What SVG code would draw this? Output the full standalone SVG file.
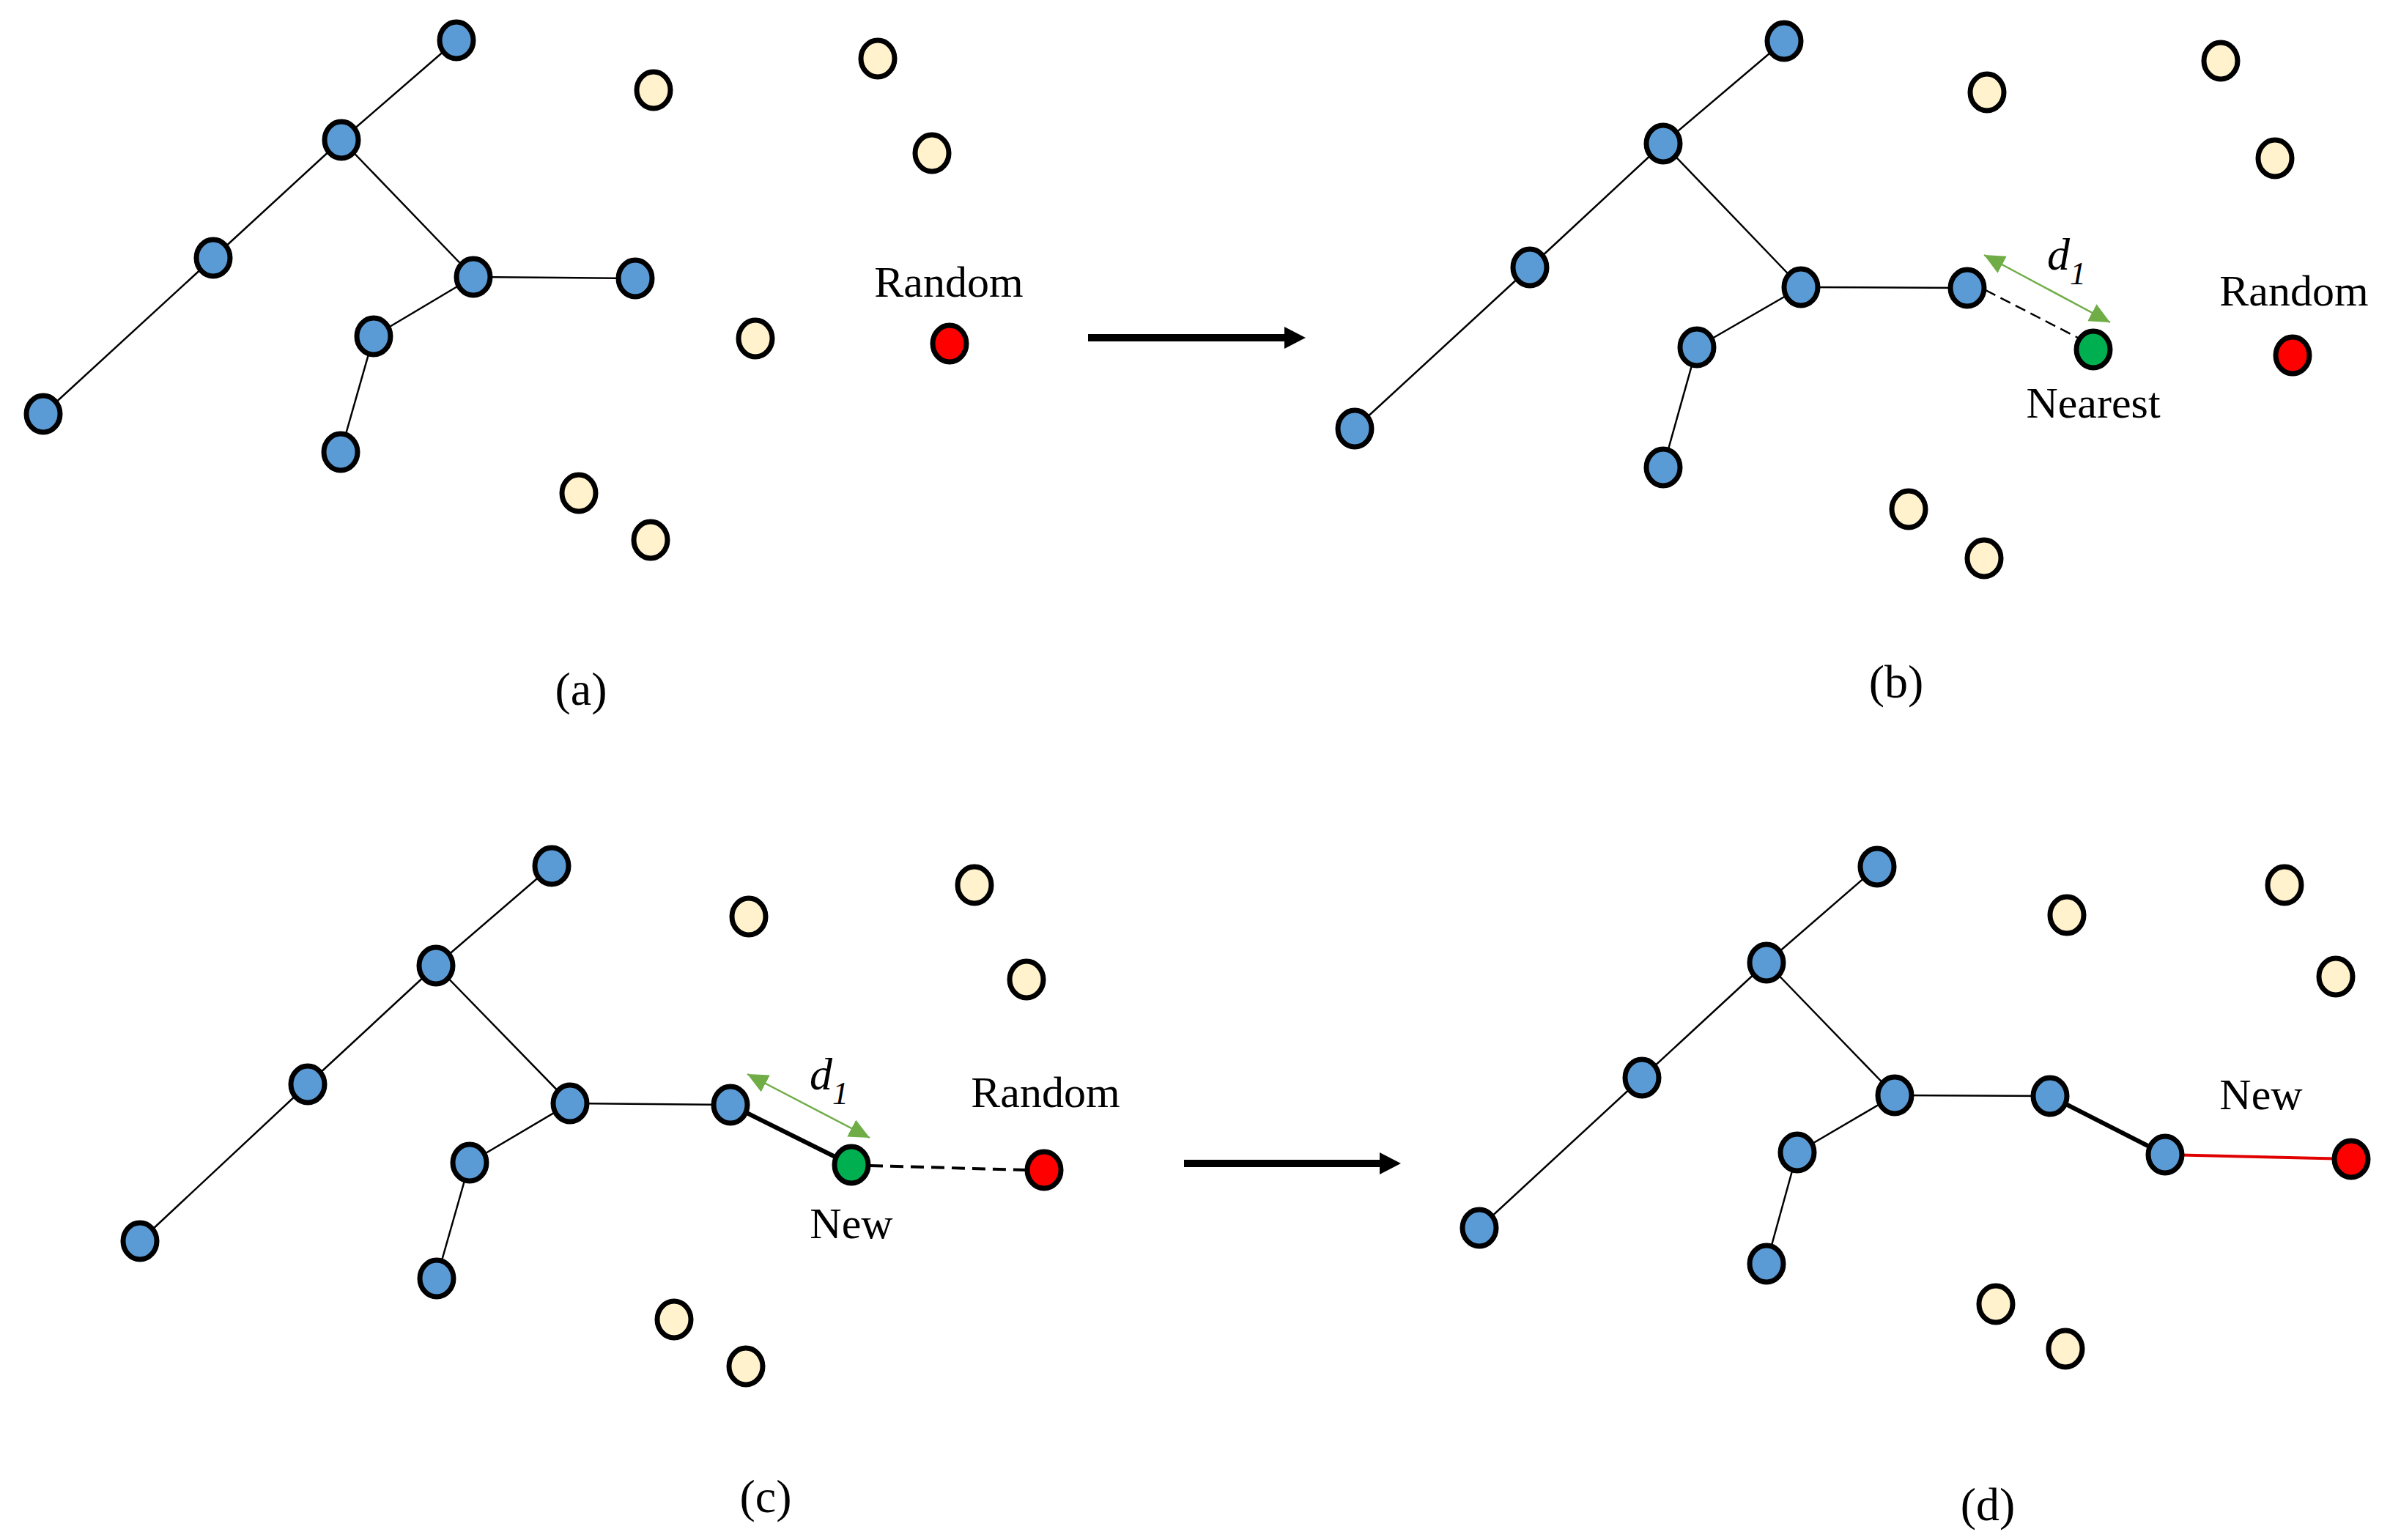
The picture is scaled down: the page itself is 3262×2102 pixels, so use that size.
<svg xmlns="http://www.w3.org/2000/svg" width="3262" height="2102" viewBox="0 0 3262 2102">
<style>
.n{stroke:#000;stroke-width:7}
.b{fill:#5B9BD5}
.c{fill:#FFF2CC}
.g{fill:#00B050}
.r{fill:#FF0000}
.e{stroke:#000;stroke-width:2.5;fill:none}
.k{stroke:#000;stroke-width:6;fill:none}
.dash{stroke:#000;fill:none}
.gd{stroke:#70AD47;stroke-width:2.5;fill:none;marker-start:url(#ga);marker-end:url(#ga)}
.big{stroke:#000;stroke-width:10;fill:none;marker-end:url(#ba)}
.t{font-family:"Liberation Serif","Times New Roman",serif;font-size:60px;fill:#000;text-anchor:middle}
.lab{font-family:"Liberation Serif","Times New Roman",serif;font-size:64px;fill:#000;text-anchor:middle}
.m{font-family:"Liberation Serif","Times New Roman",serif;font-style:italic;font-size:62px;fill:#000}
</style>
<defs>
<marker id="ga" markerUnits="userSpaceOnUse" markerWidth="30" markerHeight="28" refX="28" refY="13" orient="auto-start-reverse" viewBox="0 0 30 28"><path d="M0,0 L28,13 L0,26 z" fill="#70AD47"/></marker>
<marker id="ba" markerUnits="userSpaceOnUse" markerWidth="30" markerHeight="30" refX="0" refY="15" orient="auto" viewBox="0 0 30 30"><path d="M0,0 L29,15 L0,30 z" fill="#000"/></marker>
</defs>
<rect width="3262" height="2102" fill="#fff"/>
<g id="connectors">
<!-- (a) -->
<line class="e" x1="623" y1="55" x2="466" y2="191"/>
<line class="e" x1="466" y1="191" x2="291" y2="352"/>
<line class="e" x1="291" y1="352" x2="59" y2="565"/>
<line class="e" x1="466" y1="191" x2="646" y2="378"/>
<line class="e" x1="646" y1="378" x2="867" y2="380"/>
<line class="e" x1="646" y1="378" x2="510" y2="459"/>
<line class="e" x1="510" y1="459" x2="465" y2="617"/>
<!-- (b) -->
<line class="e" x1="2435" y1="56" x2="2270" y2="196"/>
<line class="e" x1="2270" y1="196" x2="2088" y2="365"/>
<line class="e" x1="2088" y1="365" x2="1849" y2="585"/>
<line class="e" x1="2270" y1="196" x2="2458" y2="392"/>
<line class="e" x1="2458" y1="392" x2="2685" y2="393"/>
<line class="e" x1="2458" y1="392" x2="2316" y2="474"/>
<line class="e" x1="2316" y1="474" x2="2270" y2="638"/>
<line class="dash" stroke-width="2.5" stroke-dasharray="15 8" x1="2710" y1="396" x2="2838" y2="462"/>
<line class="gd" x1="2708" y1="348" x2="2880" y2="440"/>
<!-- (c) -->
<line class="e" x1="753" y1="1182" x2="595" y2="1318"/>
<line class="e" x1="595" y1="1318" x2="420" y2="1480"/>
<line class="e" x1="420" y1="1480" x2="191" y2="1694"/>
<line class="e" x1="595" y1="1318" x2="778" y2="1506"/>
<line class="e" x1="778" y1="1506" x2="997" y2="1508"/>
<line class="e" x1="778" y1="1506" x2="641" y2="1587"/>
<line class="e" x1="641" y1="1587" x2="596" y2="1745"/>
<line class="k" x1="997" y1="1508" x2="1162" y2="1590"/>
<line class="dash" stroke-width="4" stroke-dasharray="18 10" x1="1187" y1="1591" x2="1402" y2="1597"/>
<line class="gd" x1="1020" y1="1466" x2="1187" y2="1553"/>
<!-- (d) -->
<line class="e" x1="2562" y1="1183" x2="2411" y2="1314"/>
<line class="e" x1="2411" y1="1314" x2="2241" y2="1471"/>
<line class="e" x1="2241" y1="1471" x2="2019" y2="1676"/>
<line class="e" x1="2411" y1="1314" x2="2586" y2="1495"/>
<line class="e" x1="2586" y1="1495" x2="2798" y2="1496"/>
<line class="e" x1="2586" y1="1495" x2="2453" y2="1573"/>
<line class="e" x1="2453" y1="1573" x2="2411" y2="1725"/>
<line class="k" x1="2798" y1="1496" x2="2955" y2="1576"/>
<line stroke="#E00000" stroke-width="4" x1="2955" y1="1576" x2="3209" y2="1582"/>
<!-- step arrows -->
<line class="big" x1="1485" y1="461" x2="1753" y2="461"/>
<line class="big" x1="1616" y1="1588" x2="1883" y2="1588"/>
</g>
<g id="panel-a">
<ellipse id="a-t1" class="n b" cx="623" cy="55" rx="23" ry="25"/>
<ellipse id="a-t2" class="n b" cx="466" cy="191" rx="23" ry="25"/>
<ellipse id="a-t3" class="n b" cx="291" cy="352" rx="23" ry="25"/>
<ellipse id="a-t4" class="n b" cx="59" cy="565" rx="23" ry="25"/>
<ellipse id="a-t5" class="n b" cx="646" cy="378" rx="23" ry="25"/>
<ellipse id="a-t6" class="n b" cx="867" cy="380" rx="23" ry="25"/>
<ellipse id="a-t7" class="n b" cx="510" cy="459" rx="23" ry="25"/>
<ellipse id="a-t8" class="n b" cx="465" cy="617" rx="23" ry="25"/>
<ellipse id="a-s1" class="n c" cx="892" cy="123" rx="23" ry="25"/>
<ellipse id="a-s2" class="n c" cx="1198" cy="80" rx="23" ry="25"/>
<ellipse id="a-s3" class="n c" cx="1272" cy="209" rx="23" ry="25"/>
<ellipse id="a-s4" class="n c" cx="1031" cy="462" rx="23" ry="25"/>
<ellipse id="a-s5" class="n c" cx="790" cy="673" rx="23" ry="25"/>
<ellipse id="a-s6" class="n c" cx="888" cy="737" rx="23" ry="25"/>
<g id="a-random"><ellipse class="n r" cx="1296" cy="469" rx="23" ry="25"/><text class="t" x="1295" y="405">Random</text></g>
<text class="lab" x="793" y="962">(a)</text>
</g>
<g id="panel-b">
<ellipse id="b-t1" class="n b" cx="2435" cy="56" rx="23" ry="25"/>
<ellipse id="b-t2" class="n b" cx="2270" cy="196" rx="23" ry="25"/>
<ellipse id="b-t3" class="n b" cx="2088" cy="365" rx="23" ry="25"/>
<ellipse id="b-t4" class="n b" cx="1849" cy="585" rx="23" ry="25"/>
<ellipse id="b-t5" class="n b" cx="2458" cy="392" rx="23" ry="25"/>
<ellipse id="b-t6" class="n b" cx="2685" cy="393" rx="23" ry="25"/>
<ellipse id="b-t7" class="n b" cx="2316" cy="474" rx="23" ry="25"/>
<ellipse id="b-t8" class="n b" cx="2270" cy="638" rx="23" ry="25"/>
<ellipse id="b-s1" class="n c" cx="2712" cy="126" rx="23" ry="25"/>
<ellipse id="b-s2" class="n c" cx="3031" cy="83" rx="23" ry="25"/>
<ellipse id="b-s3" class="n c" cx="3105" cy="216" rx="23" ry="25"/>
<ellipse id="b-s5" class="n c" cx="2605" cy="695" rx="23" ry="25"/>
<ellipse id="b-s6" class="n c" cx="2708" cy="762" rx="23" ry="25"/>
<g id="b-nearest"><ellipse class="n g" cx="2857" cy="477" rx="23" ry="25"/><text class="t" x="2857" y="570">Nearest</text></g>
<g id="b-random"><ellipse class="n r" cx="3129" cy="485" rx="23" ry="25"/><text class="t" x="3131" y="417">Random</text></g>
<text class="m" x="2794" y="368">d<tspan font-size="44" dy="20">1</tspan></text>
<text class="lab" x="2588" y="952">(b)</text>
</g>
<g id="panel-c">
<ellipse id="c-t1" class="n b" cx="753" cy="1182" rx="23" ry="25"/>
<ellipse id="c-t2" class="n b" cx="595" cy="1318" rx="23" ry="25"/>
<ellipse id="c-t3" class="n b" cx="420" cy="1480" rx="23" ry="25"/>
<ellipse id="c-t4" class="n b" cx="191" cy="1694" rx="23" ry="25"/>
<ellipse id="c-t5" class="n b" cx="778" cy="1506" rx="23" ry="25"/>
<ellipse id="c-t6" class="n b" cx="997" cy="1508" rx="23" ry="25"/>
<ellipse id="c-t7" class="n b" cx="641" cy="1587" rx="23" ry="25"/>
<ellipse id="c-t8" class="n b" cx="596" cy="1745" rx="23" ry="25"/>
<ellipse id="c-s1" class="n c" cx="1022" cy="1251" rx="23" ry="25"/>
<ellipse id="c-s2" class="n c" cx="1330" cy="1208" rx="23" ry="25"/>
<ellipse id="c-s3" class="n c" cx="1401" cy="1337" rx="23" ry="25"/>
<ellipse id="c-s5" class="n c" cx="920" cy="1801" rx="23" ry="25"/>
<ellipse id="c-s6" class="n c" cx="1018" cy="1865" rx="23" ry="25"/>
<g id="c-new"><ellipse class="n g" cx="1162" cy="1590" rx="23" ry="25"/><text class="t" x="1162" y="1690">New</text></g>
<g id="c-random"><ellipse class="n r" cx="1425" cy="1597" rx="23" ry="25"/><text class="t" x="1427" y="1511">Random</text></g>
<text class="m" x="1105" y="1487">d<tspan font-size="44" dy="20">1</tspan></text>
<text class="lab" x="1045" y="2064">(c)</text>
</g>
<g id="panel-d">
<ellipse id="d-t1" class="n b" cx="2562" cy="1183" rx="23" ry="25"/>
<ellipse id="d-t2" class="n b" cx="2411" cy="1314" rx="23" ry="25"/>
<ellipse id="d-t3" class="n b" cx="2241" cy="1471" rx="23" ry="25"/>
<ellipse id="d-t4" class="n b" cx="2019" cy="1676" rx="23" ry="25"/>
<ellipse id="d-t5" class="n b" cx="2586" cy="1495" rx="23" ry="25"/>
<ellipse id="d-t6" class="n b" cx="2798" cy="1496" rx="23" ry="25"/>
<ellipse id="d-t7" class="n b" cx="2453" cy="1573" rx="23" ry="25"/>
<ellipse id="d-t8" class="n b" cx="2411" cy="1725" rx="23" ry="25"/>
<ellipse id="d-t9" class="n b" cx="2955" cy="1576" rx="23" ry="25"/>
<ellipse id="d-s1" class="n c" cx="2821" cy="1249" rx="23" ry="25"/>
<ellipse id="d-s2" class="n c" cx="3118" cy="1208" rx="23" ry="25"/>
<ellipse id="d-s3" class="n c" cx="3188" cy="1333" rx="23" ry="25"/>
<ellipse id="d-s5" class="n c" cx="2724" cy="1780" rx="23" ry="25"/>
<ellipse id="d-s6" class="n c" cx="2819" cy="1841" rx="23" ry="25"/>
<ellipse id="d-new" class="n r" cx="3209" cy="1582" rx="23" ry="25"/>
<text class="t" x="3086" y="1514">New</text>
<text class="lab" x="2713" y="2075">(d)</text>
</g>
</svg>
